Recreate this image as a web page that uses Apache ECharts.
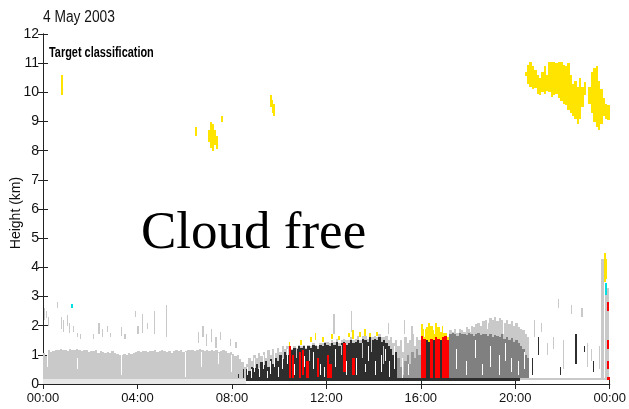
<!DOCTYPE html>
<html><head><meta charset="utf-8">
<script src="https://cdn.jsdelivr.net/npm/echarts@6/dist/echarts.min.js"></script>
<style>html,body{margin:0;padding:0;background:#fff}#c{width:629px;height:409px}</style>
</head><body><div id="c"></div>
<script>
// ---------- DATA (time in hours, height in km) ----------
const xTickLabels = ['00:00','04:00','08:00','12:00','16:00','20:00','00:00'];
const STEP = 0.1;

// aerosol / insects boundary layer (light grey), 00:00 - 08:36
const aeroStart = 0.0;
const aeroBase = 0.18;
const aeroTop = [
 1.05,0.95,1.15,1.10,1.12,1.18,1.15,1.20,1.16,1.18,
 1.14,1.20,1.17,1.15,1.19,1.16,1.12,1.18,1.15,1.10,
 1.14,1.12,1.16,1.08,1.12,1.10,1.06,1.10,1.08,1.12,
 1.05,1.02,0.98,1.00,1.04,1.00,1.06,1.02,1.08,1.10,
 1.12,1.10,1.14,1.12,1.10,1.14,1.12,1.15,1.10,1.13,
 1.16,1.12,1.10,1.14,1.08,1.12,1.15,1.12,1.16,1.10,
 1.14,1.17,1.15,1.18,1.14,1.16,1.19,1.15,1.12,1.16,
 1.14,1.18,1.12,1.15,1.10,1.14,1.16,1.12,1.05,1.10,
 1.02,0.95,1.00,0.85,0.75,0.60];

// convective boundary layer (drizzle/black + aerosol cap), 08:36 - 15:00
const convStart = 8.6;
const convDarkTop = [
 0.5,0.45,0.6,0.55,0.7,0.5,0.75,0.65,0.8,0.6,
 0.85,0.7,0.9,0.8,1.0,0.85,1.1,1.0,1.2,1.15,
 1.25,1.2,1.3,1.25,1.3,1.2,1.3,1.25,1.35,1.3,
 1.2,1.35,1.3,1.4,1.35,1.3,1.4,1.35,1.45,1.3,
 1.4,1.45,1.35,1.4,1.5,1.4,1.45,1.5,1.4,1.55,
 1.5,1.45,1.6,1.5,1.55,1.5,1.6,1.45,1.5,1.4,
 1.3,1.2,1.0,1.1];
const convCapTop = [
 0.7,0.9,0.8,1.0,0.9,1.05,0.95,1.1,0.9,1.15,
 1.0,1.2,1.05,1.25,1.1,1.3,1.2,1.3,1.25,1.2,
 1.3,1.25,1.35,1.3,1.35,1.25,1.35,1.3,1.4,1.35,
 1.3,1.4,1.4,1.45,1.45,1.4,1.5,1.45,1.55,1.4,
 1.5,1.55,1.5,1.5,1.6,1.5,1.55,1.65,1.5,1.65,
 1.65,1.55,1.7,1.6,1.65,1.6,1.7,1.6,1.6,1.65,
 1.5,1.6,1.4,1.5];

// transition 15:00 - 16:00
const transStart = 15.0;
const transLowTop = [0.9,0.6,0.3,0.8,1.0,0.7,1.1,0.9,1.2,1.0];
const transCapTop = [1.3,1.5,1.1,1.6,1.4,1.5,1.7,1.3,1.6,1.5];

// rain shower 16:00 - 17:12
const rainStart = 16.0;
const rainClass = ['R','R','K','K','R','K','R','R','K','R','R','R'];
const rainTop = [1.65,1.55,1.5,1.45,1.55,1.5,1.6,1.55,1.5,1.6,1.65,1.5];
const rainIceTop = [2.05,1.9,1.95,2.1,2.0,1.85,2.1,1.95,1.8,2.0,1.75,1.6];

// stratiform layer 17:12 - 20:36
const stratStart = 17.2;
const stratTop = [
 1.7,1.75,1.7,1.65,1.75,1.7,1.72,1.68,1.75,1.7,
 1.65,1.7,1.75,1.68,1.72,1.7,1.65,1.72,1.6,1.68,
 1.65,1.6,1.7,1.55,1.62,1.5,1.58,1.45,1.52,1.4,
 1.3,1.2,1.0,0.9];
const stratCapTop = [
 1.85,1.8,1.9,1.75,1.9,1.85,1.8,1.95,1.9,2.0,
 1.95,2.05,2.1,2.0,2.15,2.2,2.1,2.25,2.2,2.3,
 2.15,2.25,2.2,2.1,2.2,2.05,2.15,2.0,2.1,1.95,
 1.9,1.85,1.7,1.6];

// high ice cloud 20:24 - 24:00
const iceStart = 20.4;
const iceBase = [
 10.55,10.3,10.2,10.1,10.15,9.95,9.9,10.0,9.95,10.05,
 10.0,9.85,9.9,9.95,9.8,9.7,9.6,9.55,9.4,9.3,
 9.2,9.1,8.9,9.1,9.5,9.9,null,9.6,9.3,9.0,
 8.8,8.7,8.9,9.2,9.1,9.05];
const iceTop = [
 10.7,10.95,11.05,10.9,10.75,10.6,10.5,10.7,10.9,10.6,
 11.05,11.05,11.05,11.0,11.05,11.05,10.95,10.9,11.0,10.6,
 10.3,10.4,10.2,10.5,10.2,10.35,null,10.2,10.7,10.85,
 10.9,10.4,10.1,9.8,9.6,9.55];

// near-ground bands [tStart, tEnd, hBottom, hTop]
const groundFaint = [[0, 8.6, 0.0, 0.18]];
const groundDark = [[8.6, 17.2, 0.12, 0.2],[17.2, 20.2, 0.12, 0.22]];
const groundLight = [[20.2, 23.9, 0.14, 0.22]];

// isolated streaks [time, hBottom, hTop]
const aeroStreaks = [
 [0.05,2.2,2.6],[0.12,2.25,2.5],[0.2,2.0,2.3],[0.6,2.6,2.8],[0.75,1.9,2.3],[0.85,1.8,2.2],
 [1.0,2.0,2.35],[1.1,1.75,2.1],[1.25,1.8,2.0],[1.45,1.6,1.75],[1.55,1.55,1.7],[2.1,1.55,1.7],
 [2.35,1.7,2.1],[2.5,1.6,1.9],[2.7,1.8,2.0],[2.85,1.6,1.75],[3.3,1.65,1.95],[3.45,1.55,1.7],
 [3.9,2.3,2.5],[4.0,1.7,2.0],[4.2,1.75,2.4],[4.4,1.9,2.1],[4.7,1.7,2.5],[5.2,1.6,2.7],
 [6.55,1.4,1.8],[6.75,1.6,2.0],[6.9,1.3,1.7],[7.1,1.45,1.9],[7.3,1.25,1.6],[7.5,1.5,1.8],
 [7.9,1.3,1.55],[8.15,1.25,1.45],[12.3,1.7,2.4],[13.05,1.8,2.5],[14.6,1.7,2.1],[15.3,1.7,2.2],
 [15.6,1.6,2.0],[20.8,1.6,2.2],[21.1,1.8,2.1],[21.35,1.0,1.4],[21.6,1.2,1.6],[21.8,2.6,2.9],
 [22.0,0.5,1.5],[22.35,2.4,2.7],[22.8,2.3,2.6],[23.05,0.6,1.4],[23.2,0.8,1.2],[23.55,0.5,1.3],
 [10.7,0.9,1.2],[11.25,0.8,1.15],[12.6,1.0,1.35],[13.5,0.9,1.4],[13.9,1.1,1.5],[14.4,0.7,1.3]];
const edgeColumn = [[23.62,0.2,4.3],[23.8,0.2,3.3]];
const gapStreaks = [
 [0.15,0.6,1.0],[1.45,0.5,0.9],[3.3,0.3,1.0],[6.02,0.25,1.1],[6.7,0.6,1.1],[7.4,0.7,1.05],[7.95,0.4,1.0],
 [8.65,0.3,0.6],[8.82,0.2,0.5],[8.95,0.4,0.9],[9.15,0.25,0.55],[9.32,0.5,1.0],[9.48,0.2,0.45],
 [9.62,0.35,0.8],[9.78,0.6,1.1],[9.95,0.25,0.6],[10.12,0.5,0.9],[10.35,0.7,1.2],[10.62,0.3,0.7],
 [11.05,0.6,0.95],[11.45,0.5,1.1],[11.75,0.3,0.7],[11.9,0.25,0.6],[12.35,0.6,1.2],[12.85,0.3,0.8],
 [13.25,0.3,0.9],[13.65,0.4,0.7],[13.75,0.8,1.3],[14.05,0.3,0.8],[14.3,0.4,1.0],[14.5,0.8,1.2],
 [14.65,0.25,0.8],[14.85,0.5,1.3],[15.2,0.2,0.9],[15.45,0.3,0.7],
 [16.15,1.6,1.9],[16.55,1.7,2.0],[16.95,1.75,2.0],
 [17.5,0.5,1.2],[17.9,0.3,0.8],[18.3,0.9,1.5],[18.6,0.3,0.7],[18.95,0.6,1.3],[19.3,0.3,1.0],
 [19.55,0.8,1.4],[19.8,0.4,0.9],[20.1,0.3,0.8],[20.35,0.5,1.1],
 [18.1,1.8,2.1],[18.8,1.9,2.3],[19.5,1.7,2.2]];
const darkStreaks = [
 [8.25,0.2,0.35],[8.45,0.2,0.5],[20.7,0.3,0.9],[20.95,1.0,1.6],[21.9,0.3,0.6],[22.55,0.7,1.7],
 [22.9,1.1,1.3],[23.3,0.4,0.8]];
const redStreaks = [
 [10.42,0.2,1.3],[10.55,0.2,1.0],[10.82,0.2,1.1],[10.95,0.3,1.15],[11.15,0.2,0.8],[11.6,0.25,0.9],
 [12.02,0.2,1.0],[12.12,0.2,0.7],[12.72,0.4,1.4],[13.1,0.3,0.9],
 [23.88,2.5,2.8],[23.88,1.2,1.5],[23.88,0.5,0.8],[23.9,0.15,0.25]];
const iceStreaks = [
 [10.4,1.3,1.45],[10.9,1.35,1.5],[11.3,1.45,1.6],[11.5,1.5,1.75],[11.8,1.45,1.6],[12.2,1.55,1.7],
 [12.5,1.5,1.65],[12.9,1.6,1.75],[13.1,1.55,1.85],[13.4,1.6,1.8],[13.6,1.65,1.9],[13.8,1.6,1.75],
 [14.1,1.65,1.8],[23.75,3.5,4.5],[23.82,3.6,4.3],
 [0.78,9.9,10.6],[6.45,8.5,8.8],[7.0,8.3,8.7],[7.08,8.1,9.0],[7.16,8.0,8.9],[7.24,8.2,8.7],
 [7.32,8.05,8.5],[7.55,9.0,9.2],[9.6,9.5,9.9],[9.68,9.3,9.75],[9.76,9.2,9.6]];
const cyanStreaks = [[1.17,2.6,2.75],[23.8,3.05,3.45]];

// ---------- BUILD ----------
const C = {aero:'#c9c9c9', dark:'#2e2e2e', mid:'#808080', trans:'#969696', red:'#ff0000',
           ice:'#ffe400', cyan:'#00e0e0', faint:'#e8e8e8', gap:'#ffffff'};

function columns(start, tops, bottoms) {
  const out = [];
  tops.forEach((top, i) => {
    const b = Array.isArray(bottoms) ? bottoms[i] : bottoms;
    if (top == null || b == null || top <= b) return;
    const t = +(start + i * STEP).toFixed(3);
    out.push([t, t + STEP, b, top]);
  });
  return out;
}
function streaks(list, w) { return list.map(s => [s[0], s[0] + w, s[1], s[2]]); }

function layer(name, color, data, z) {
  return {
    type: 'custom', name, data, z: z || 2, silent: true, animation: false, clip: true,
    encode: {x: [0, 1], y: [2, 3]},
    renderItem: function (params, api) {
      const a = api.coord([api.value(0), api.value(3)]);
      const b = api.coord([api.value(1), api.value(2)]);
      const x0 = Math.round(a[0]);
      const x1 = Math.max(Math.round(b[0]), x0 + 1);
      const y0 = Math.round(a[1]);
      const y1 = Math.max(Math.round(b[1]), y0 + 1);
      return {type: 'rect', shape: {x: x0, y: y0, width: x1 - x0, height: y1 - y0}, style: {fill: color}};
    }
  };
}

const rainRed = [], rainDark = [];
rainClass.forEach((c, i) => {
  const t = +(rainStart + i * STEP).toFixed(3);
  (c === 'R' ? rainRed : rainDark).push([t, t + STEP, 0.15, rainTop[i]]);
});

const series = [
  layer('faint', C.faint, groundFaint),
  layer('aerosol', C.aero, columns(aeroStart, aeroTop, aeroBase)),
  layer('convCap', C.aero, columns(convStart, convCapTop, 0.18)),
  layer('convDark', C.dark, columns(convStart, convDarkTop, 0.18)),
  layer('transCap', C.aero, columns(transStart, transCapTop, 0.18)),
  layer('transLow', C.trans, columns(transStart, transLowTop, 0.18)),
  layer('rainIce', C.ice, columns(rainStart, rainIceTop, rainTop)),
  layer('rainDark', C.dark, rainDark),
  layer('rainRed', C.red, rainRed),
  layer('stratCap', C.aero, columns(stratStart, stratCapTop, 0.18)),
  layer('strat', C.mid, columns(stratStart, stratTop, 0.18)),
  layer('groundDark', C.dark, groundDark),
  layer('groundLight', C.aero, groundLight),
  layer('gaps', C.gap, streaks(gapStreaks, 0.04)),
  layer('aeroStreaks', C.aero, streaks(aeroStreaks, 0.05)),
  layer('edgeColumn', C.aero, streaks(edgeColumn, 0.15)),
  layer('darkStreaks', C.dark, streaks(darkStreaks, 0.05)),
  layer('redStreaks', C.red, streaks(redStreaks, 0.1)),
  layer('iceStreaks', C.ice, streaks(iceStreaks, 0.08)),
  layer('iceCloud', C.ice, columns(iceStart, iceTop, iceBase)),
  layer('cyan', C.cyan, streaks(cyanStreaks, 0.1))
];

const SANS = '"Liberation Sans",Arial,Helvetica,sans-serif';
const axisLine = {show: true, lineStyle: {color: '#222', width: 1}};
const tick = {show: true, inside: true, length: 5, lineStyle: {color: '#222', width: 1}};

const chart = echarts.init(document.getElementById('c'), null, {renderer: 'canvas'});
chart.setOption({
  backgroundColor: '#fff',
  animation: false,
  grid: {left: 43, right: 12, top: 34, bottom: 25, containLabel: false},
  xAxis: [
    {type: 'value', min: 0, max: 24, interval: 4, position: 'bottom',
     axisLine, axisTick: tick, splitLine: {show: false},
     axisLabel: {color: '#111', fontSize: 13, fontFamily: SANS, margin: 8,
                 formatter: v => xTickLabels[Math.round(v / 4)]}},
    {type: 'value', min: 0, max: 24, interval: 4, position: 'top',
     axisLine, axisTick: tick, splitLine: {show: false}, axisLabel: {show: false}}
  ],
  yAxis: [
    {type: 'value', min: 0, max: 12, interval: 1, position: 'left',
     axisLine, axisTick: tick, splitLine: {show: false},
     axisLabel: {color: '#111', fontSize: 14, fontFamily: SANS, margin: 4}},
    {type: 'value', min: 0, max: 12, interval: 1, position: 'right',
     axisLine, axisTick: tick, splitLine: {show: false}, axisLabel: {show: false}}
  ],
  graphic: [
    {type: 'text', x: 43, y: 18, scaleX: 0.86, z: 100,
     style: {text: '4 May 2003', fill: '#111', font: '16px ' + SANS, align: 'left', verticalAlign: 'middle'}},
    {type: 'text', x: 49, y: 53, scaleX: 0.78, z: 100,
     style: {text: 'Target classification', fill: '#000', font: 'bold 14px ' + SANS, align: 'left', verticalAlign: 'middle'}},
    {type: 'text', x: 16, y: 213, rotation: Math.PI / 2, z: 100,
     style: {text: 'Height (km)', fill: '#111', font: '14px ' + SANS,
             align: 'center', verticalAlign: 'middle'}},
    {type: 'text', x: 141, y: 234, z: 100,
     style: {text: 'Cloud free', fill: '#000', font: '53px "Liberation Serif","Times New Roman",serif',
             align: 'left', verticalAlign: 'middle'}}
  ],
  series
});
</script></body></html>
